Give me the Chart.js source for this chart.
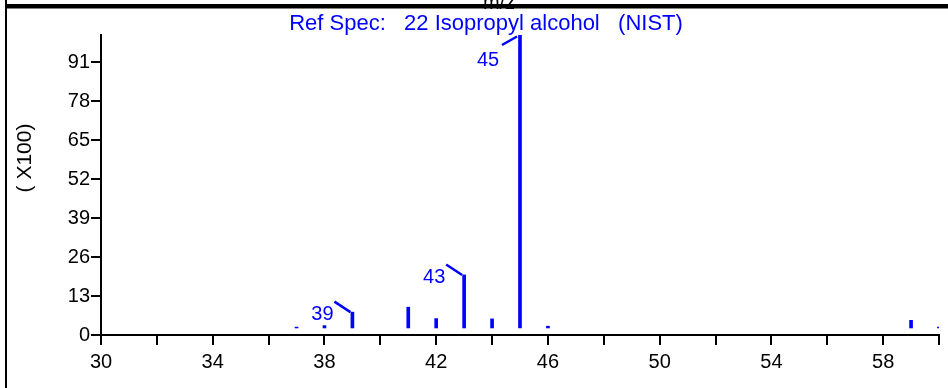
<!DOCTYPE html>
<html><head><meta charset="utf-8">
<script src="https://cdn.jsdelivr.net/npm/chart.js@4"></script>
<style>html,body{margin:0;padding:0;background:#fff;overflow:hidden}#wrap{width:948px;height:388px;position:relative}</style>
</head><body><div id="wrap"><canvas id="c" width="948" height="388"></canvas></div>
<script>
// ---- data ----
const mz = [37, 38, 39, 41, 42, 43, 44, 45, 46, 59, 60];
const intensity = [0.3, 0.8, 5.4, 7.1, 3.2, 18.1, 3.1, 100, 0.6, 2.6, 0.3];
const labeledPeaks = [39, 43, 45];
const yTickValues = [0, 13, 26, 39, 52, 65, 78, 91];
const xTickValues = [30, 32, 34, 36, 38, 40, 42, 44, 46, 48, 50, 52, 54, 56, 58, 60];
const xLabelValues = [30, 34, 38, 42, 46, 50, 54, 58];
const titleText = 'Ref Spec:   22 Isopropyl alcohol   (NIST)';
const yAxisTitle = '( X100)';
const xAxisTitle = 'm/z';

const BLUE = '#0000ff';
const FONT = 'Liberation Sans, Arial, sans-serif';

const deco = {
  id: 'deco',
  afterDraw(chart) {
    const ctx = chart.ctx, ca = chart.chartArea;
    const xs = chart.scales.x, ys = chart.scales.yBar;
    ctx.save();
    // cut-off x-axis title of the panel above
    ctx.fillStyle = '#000';
    ctx.font = '20px ' + FONT;
    ctx.textAlign = 'center';
    ctx.textBaseline = 'alphabetic';
    ctx.fillText(xAxisTitle, 499, 9);
    // frame
    ctx.fillRect(5, 0, 2, 388);
    ctx.fillRect(7, 4, 941, 4.5);
    // title
    ctx.fillStyle = BLUE;
    ctx.font = '22px ' + FONT;
    ctx.textBaseline = 'middle';
    ctx.fillText(titleText, 486, 24);
    // y-axis title
    ctx.fillStyle = '#000';
    ctx.font = '21px ' + FONT;
    ctx.save();
    ctx.translate(25, 158);
    ctx.rotate(-Math.PI / 2);
    ctx.fillText(yAxisTitle, 0, 0);
    ctx.restore();
    // peak annotations
    ctx.strokeStyle = BLUE;
    ctx.fillStyle = BLUE;
    ctx.lineWidth = 2.5;
    ctx.font = '20px ' + FONT;
    labeledPeaks.forEach(p => {
      const i = mz.indexOf(p);
      const px = xs.getPixelForValue(p), py = ys.getPixelForValue(intensity[i]);
      ctx.beginPath();
      let lx, ly;
      if (py - ca.top < 20) {
        ctx.moveTo(px - 3, py + 1.5); ctx.lineTo(px - 18, py + 10);
        lx = px - 32; ly = py + 25;
      } else {
        ctx.moveTo(px - 2, py); ctx.lineTo(px - 18, py - 10.5);
        lx = px - 30; ly = py + 2.5;
      }
      ctx.stroke();
      ctx.fillText(String(p), lx, ly);
    });
    ctx.restore();
  }
};

new Chart(document.getElementById('c'), {
  type: 'bar',
  data: {
    datasets: [{
      data: mz.map((x, i) => ({ x: x, y: intensity[i] })),
      backgroundColor: BLUE,
      borderWidth: 0,
      barThickness: 3,
      xAxisID: 'x',
      yAxisID: 'yBar'
    }]
  },
  options: {
    responsive: false,
    animation: false,
    devicePixelRatio: 1,
    layout: { padding: { top: 35, right: 9, left: 0, bottom: 0 } },
    plugins: { legend: { display: false }, tooltip: { enabled: false }, title: { display: false } },
    scales: {
      x: {
        type: 'linear', min: 30, max: 60, offset: false,
        afterBuildTicks: s => { s.ticks = xTickValues.map(v => ({ value: v })); },
        ticks: {
          autoSkip: false, maxRotation: 0, padding: 5, color: '#000',
          font: { family: FONT, size: 20 },
          callback: v => xLabelValues.includes(v) ? String(v) : ''
        },
        grid: { offset: false, drawOnChartArea: false, drawTicks: true, tickLength: 10, color: '#000', lineWidth: 2 },
        border: { display: true, color: '#000', width: 2 },
        afterFit: s => { s.height = 53; }
      },
      y: {
        position: 'left', min: 0, max: 100,
        afterBuildTicks: s => { s.ticks = yTickValues.map(v => ({ value: v })); },
        ticks: { autoSkip: false, padding: 1, color: '#000', font: { family: FONT, size: 20 } },
        grid: { drawOnChartArea: false, drawTicks: true, tickLength: 10, color: '#000', lineWidth: 2 },
        border: { display: true, color: '#000', width: 2 },
        afterFit: s => { s.width = 101; }
      },
      yBar: { display: false, min: -2.4, max: 100 }
    }
  },
  plugins: [deco]
});
</script></body></html>
